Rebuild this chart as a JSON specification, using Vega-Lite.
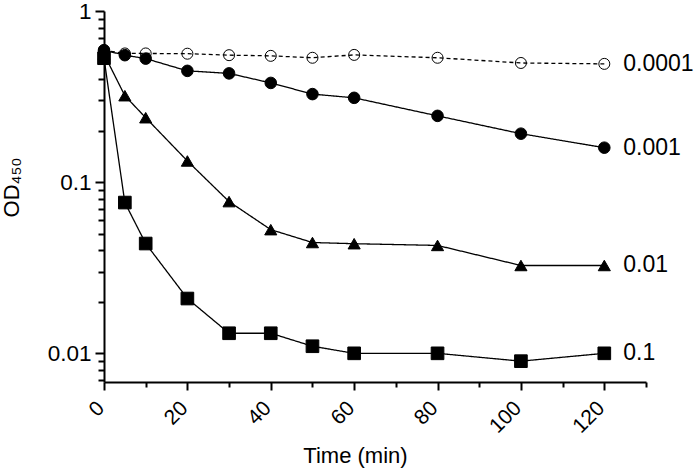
{
  "$schema": "https://vega.github.io/schema/vega-lite/v6.json",
  "width": 542,
  "height": 371,
  "autosize": {"type": "none"},
  "padding": {"left": 104, "top": 11, "right": 51, "bottom": 91},
  "background": "white",
  "config": {
    "view": {"stroke": null},
    "font": "Liberation Sans",
    "axis": {
      "domainColor": "black",
      "domainWidth": 2,
      "tickColor": "black",
      "tickWidth": 2,
      "labelColor": "black",
      "titleColor": "black",
      "labelFont": "Liberation Sans",
      "titleFont": "Liberation Sans",
      "grid": false,
      "titleFontWeight": "normal"
    }
  },
  "data": {
    "values": [
      {"series": "0.0001", "t": 0, "od": 0.59},
      {"series": "0.0001", "t": 5, "od": 0.565},
      {"series": "0.0001", "t": 10, "od": 0.565},
      {"series": "0.0001", "t": 20, "od": 0.563},
      {"series": "0.0001", "t": 30, "od": 0.552},
      {"series": "0.0001", "t": 40, "od": 0.547},
      {"series": "0.0001", "t": 50, "od": 0.533},
      {"series": "0.0001", "t": 60, "od": 0.554},
      {"series": "0.0001", "t": 80, "od": 0.533},
      {"series": "0.0001", "t": 100, "od": 0.497},
      {"series": "0.0001", "t": 120, "od": 0.491},
      {"series": "0.001", "t": 0, "od": 0.59},
      {"series": "0.001", "t": 5, "od": 0.552},
      {"series": "0.001", "t": 10, "od": 0.527},
      {"series": "0.001", "t": 20, "od": 0.447},
      {"series": "0.001", "t": 30, "od": 0.432},
      {"series": "0.001", "t": 40, "od": 0.380},
      {"series": "0.001", "t": 50, "od": 0.327},
      {"series": "0.001", "t": 60, "od": 0.311},
      {"series": "0.001", "t": 80, "od": 0.244},
      {"series": "0.001", "t": 100, "od": 0.192},
      {"series": "0.001", "t": 120, "od": 0.159},
      {"series": "0.01", "t": 0, "od": 0.56},
      {"series": "0.01", "t": 5, "od": 0.32},
      {"series": "0.01", "t": 10, "od": 0.238},
      {"series": "0.01", "t": 20, "od": 0.133},
      {"series": "0.01", "t": 30, "od": 0.077},
      {"series": "0.01", "t": 40, "od": 0.0528},
      {"series": "0.01", "t": 50, "od": 0.0444},
      {"series": "0.01", "t": 60, "od": 0.0437},
      {"series": "0.01", "t": 80, "od": 0.0427},
      {"series": "0.01", "t": 100, "od": 0.0326},
      {"series": "0.01", "t": 120, "od": 0.0326},
      {"series": "0.1", "t": 0, "od": 0.53},
      {"series": "0.1", "t": 5, "od": 0.076},
      {"series": "0.1", "t": 10, "od": 0.0438},
      {"series": "0.1", "t": 20, "od": 0.0209},
      {"series": "0.1", "t": 30, "od": 0.0131},
      {"series": "0.1", "t": 40, "od": 0.0131},
      {"series": "0.1", "t": 50, "od": 0.0110},
      {"series": "0.1", "t": 60, "od": 0.0100},
      {"series": "0.1", "t": 80, "od": 0.0100},
      {"series": "0.1", "t": 100, "od": 0.0090},
      {"series": "0.1", "t": 120, "od": 0.0100}
    ]
  },
  "encoding": {
    "x": {
      "field": "t",
      "type": "quantitative",
      "scale": {"domain": [0, 130], "nice": false, "zero": false},
      "axis": {
        "title": "Time (min)",
        "titleFontSize": 22,
        "titleX": 251,
        "titleY": 80,
        "titleAlign": "center",
        "titleBaseline": "alphabetic",
        "values": [0, 10, 20, 30, 40, 50, 60, 70, 80, 90, 100, 110, 120, 130],
        "labelExpr": "(datum.value % 20 === 0 && datum.value <= 120) ? datum.label : ''",
        "labelAngle": -45,
        "labelAlign": "right",
        "labelBaseline": "top",
        "labelFontSize": 21,
        "labelPadding": 7,
        "labelOffset": -11,
        "labelOverlap": false,
        "labelFlush": false,
        "tickSize": {"condition": {"test": "datum.value % 20 === 0 && datum.value <= 120", "value": 8}, "value": 5}
      }
    },
    "y": {
      "field": "od",
      "type": "quantitative",
      "scale": {"type": "log", "domain": [0.0068, 1], "nice": false},
      "axis": {
        "title": "OD₄₅₀",
        "titleFontSize": 22,
        "titleAngle": -90,
        "titleX": -86,
        "titleY": 176,
        "titleAlign": "center",
        "titleBaseline": "alphabetic",
        "values": [0.007, 0.008, 0.009, 0.01, 0.02, 0.03, 0.04, 0.05, 0.06, 0.07, 0.08, 0.09, 0.1, 0.2, 0.3, 0.4, 0.5, 0.6, 0.7, 0.8, 0.9, 1],
        "labelExpr": "datum.value === 1 ? '1' : datum.value === 0.1 ? '0.1' : datum.value === 0.01 ? '0.01' : ''",
        "labelFontSize": 22.5,
        "labelPadding": 4,
        "labelOverlap": false,
        "labelFlush": false,
        "tickSize": {"condition": {"test": "datum.value === 1 || datum.value === 0.1 || datum.value === 0.01", "value": 9}, "value": 6}
      }
    }
  },
  "layer": [
    {
      "mark": {"type": "line", "color": "black", "strokeWidth": 1.3},
      "encoding": {
        "detail": {"field": "series"},
        "strokeDash": {
          "field": "series",
          "type": "nominal",
          "scale": {"domain": ["0.0001", "0.001", "0.01", "0.1"], "range": [[4, 3], [1, 0], [1, 0], [1, 0]]},
          "legend": null
        }
      }
    },
    {
      "mark": {"type": "point", "stroke": "black", "strokeWidth": 1, "opacity": 1},
      "encoding": {
        "shape": {
          "field": "series",
          "type": "nominal",
          "scale": {"domain": ["0.0001", "0.001", "0.01", "0.1"], "range": ["circle", "circle", "triangle-up", "square"]},
          "legend": null
        },
        "size": {
          "field": "series",
          "type": "nominal",
          "scale": {"domain": ["0.0001", "0.001", "0.01", "0.1"], "range": [121, 160, 160, 150]},
          "legend": null
        },
        "fill": {
          "field": "series",
          "type": "nominal",
          "scale": {"domain": ["0.0001", "0.001", "0.01", "0.1"], "range": ["transparent", "black", "black", "black"]},
          "legend": null
        },
        "fillOpacity": {"value": 1}
      }
    },
    {
      "transform": [{"filter": "datum.t === 120"}],
      "mark": {"type": "text", "align": "left", "baseline": "middle", "dx": 19, "fontSize": 23, "color": "black", "font": "Liberation Sans"},
      "encoding": {
        "text": {"field": "series"}
      }
    }
  ]
}
